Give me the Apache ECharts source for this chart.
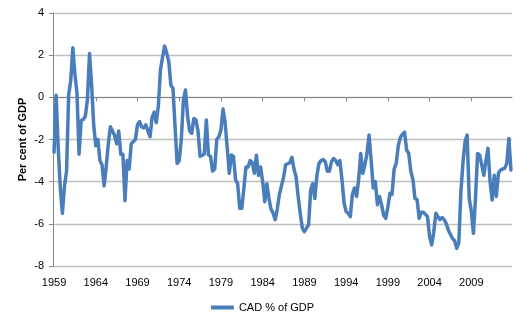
<!DOCTYPE html>
<html>
<head>
<meta charset="utf-8">
<script src="https://cdn.jsdelivr.net/npm/echarts@6/dist/echarts.min.js"></script>
<style>html,body{margin:0;padding:0;background:#fff}#c{width:525px;height:326px}</style>
</head>
<body>
<div id="c"></div>
<script>
// Quarterly, September quarter 1959 onward
var startYear = 1959;
var startQuarter = 3;
var seriesName = "CAD % of GDP";
var cadValues = [
 -2.6, 0.1, -2.4, -4.3, -5.5, -4.2, -3.5, 0.1, 0.8, 2.35,
 1.1, 0.2, -2.7, -1.1, -1.05, -0.9, -0.1, 2.08, 0.6, -1.3,
 -2.3, -2.0, -3.0, -3.2, -4.2, -3.3, -2.2, -1.4, -1.6, -1.8,
 -2.2, -1.6, -2.7, -2.7, -4.9, -3.0, -3.4, -2.2, -2.1, -2.0,
 -1.3, -1.15, -1.4, -1.45, -1.3, -1.6, -1.87, -0.95, -0.7, -1.2,
 -0.4, 1.3, 1.9, 2.43, 2.1, 1.7, 0.58, 0.43, -1.4, -3.13,
 -3.0, -2.0, -0.13, 0.35, -0.9, -1.6, -1.7, -1.0, -1.07, -1.6,
 -2.8, -2.75, -2.7, -1.07, -2.73, -2.8, -3.5, -3.4, -2.0, -1.87,
 -1.55, -0.55, -1.2, -2.4, -3.6, -2.73, -2.8, -3.9, -4.1, -5.26,
 -5.26, -4.3, -3.3, -3.3, -3.0, -3.1, -3.6, -2.75, -3.7, -3.3,
 -4.0, -4.95, -4.1, -4.8, -5.3, -5.5, -5.8, -5.3, -4.6, -4.2,
 -3.8, -3.2, -3.15, -3.1, -2.85, -3.4, -3.76, -4.7, -5.5, -6.2,
 -6.37, -6.2, -6.05, -4.4, -4.1, -4.8, -3.7, -3.13, -3.0, -2.95,
 -3.05, -3.5, -3.5, -3.05, -2.9, -3.0, -3.2, -3.0, -3.9, -5.0,
 -5.42, -5.5, -5.66, -4.6, -4.3, -4.7, -3.9, -2.66, -3.6, -3.2,
 -2.66, -1.79, -3.0, -4.3, -4.0, -5.1, -4.7, -5.1, -5.6, -5.74,
 -5.2, -4.55, -4.6, -3.4, -3.13, -2.3, -1.9, -1.75, -1.65, -2.5,
 -2.66, -3.5, -3.9, -4.8, -4.85, -5.74, -5.45, -5.45, -5.55, -5.66,
 -6.6, -7.0, -6.4, -5.5, -5.66, -5.8, -5.7, -5.8, -6.0, -6.3,
 -6.5, -6.7, -6.8, -7.16, -6.9, -4.5, -3.1, -2.1, -1.79, -4.8,
 -5.4, -6.45, -4.8, -2.66, -2.75, -3.2, -3.7, -3.0, -2.42, -4.0,
 -4.87, -3.7, -4.7, -3.6, -3.45, -3.4, -3.37, -3.13, -1.95, -3.45
];
var yTicks = { min: -8, max: 4, step: 2 };
var labelEvery = 20; // quarters between year labels
var yAxisTitle = "Per cent of GDP";

var categories = [];
for (var i = 0; i < cadValues.length; i++) {
  var q = startQuarter - 1 + i;
  categories.push((startYear + Math.floor(q / 4)) + "Q" + (q % 4 + 1));
}

var font = "'Liberation Sans', Arial, sans-serif";
var chart = echarts.init(document.getElementById('c'), null, {renderer: 'canvas'});
chart.setOption({
  animation: false,
  backgroundColor: '#ffffff',
  grid: { left: 53, right: 13, top: 13, bottom: 60, containLabel: false },
  legend: {
    bottom: 8, left: 'center',
    icon: 'rect', itemWidth: 23, itemHeight: 4, itemGap: 4,
    textStyle: { fontFamily: font, fontSize: 11, color: '#000' },
    data: [seriesName]
  },
  xAxis: [{
    type: 'category', data: categories, boundaryGap: true, position: 'bottom',
    axisLine: { show: false, onZero: false },
    axisTick: { show: false },
    splitLine: { show: false },
    axisLabel: {
      interval: labelEvery - 1, margin: 11,
      fontFamily: font, fontSize: 11, color: '#000',
      formatter: function (v) { return v.slice(0, 4); }
    }
  }, {
    type: 'category', data: categories, boundaryGap: true, position: 'top',
    axisLine: { show: true, onZero: true, lineStyle: { color: '#868686', width: 1 } },
    axisTick: { show: true, inside: true, interval: labelEvery - 1, alignWithLabel: true, length: 4, lineStyle: { color: '#868686' } },
    axisLabel: { show: false },
    splitLine: { show: false }
  }],
  yAxis: {
    type: 'value', min: yTicks.min, max: yTicks.max, interval: yTicks.step,
    name: yAxisTitle, nameLocation: 'middle', nameGap: 25, nameRotate: 90,
    nameMoveOverlap: false,
    nameTextStyle: { fontFamily: font, fontSize: 11, fontWeight: 'bold', color: '#000' },
    axisLine: { show: true, lineStyle: { color: '#868686', width: 1 } },
    axisTick: { show: true, length: 4, lineStyle: { color: '#868686' } },
    axisLabel: { fontFamily: font, fontSize: 11, color: '#000', margin: 9 },
    splitLine: { show: true, lineStyle: { color: '#bfbfbf', width: 1.3 } }
  },
  series: [{
    name: seriesName, type: 'line', xAxisIndex: 0, data: cadValues,
    showSymbol: false, symbol: 'none', smooth: false,
    lineStyle: { color: '#4a7ebb', width: 3.5, cap: 'round', join: 'round' },
    itemStyle: { color: '#4a7ebb' }
  }]
});
</script>
</body>
</html>
